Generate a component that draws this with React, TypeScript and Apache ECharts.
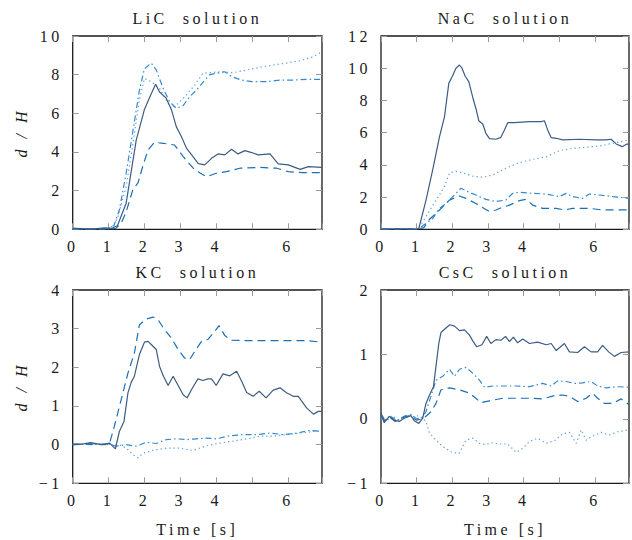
import React, { useEffect, useRef } from 'react';
import * as echarts from 'echarts';

type P = [number, number][];

// ---- LiC solution ----
const licSolid: P = [[0,0.05],[0.3,0.03],[0.6,0.02],[0.9,0.07],[1.1,0.05],[1.25,0.2],[1.49,1.35],[1.77,4.6],[2.0,6.2],[2.14,6.8],[2.31,7.5],[2.42,7.1],[2.6,6.8],[2.75,6.2],[2.89,5.3],[3.03,4.8],[3.17,4.2],[3.36,3.75],[3.5,3.4],[3.68,3.33],[3.87,3.67],[4.05,3.9],[4.24,3.85],[4.43,4.14],[4.61,3.9],[4.8,4.07],[4.99,3.97],[5.17,3.85],[5.5,3.9],[5.73,3.38],[6.01,3.33],[6.34,3.1],[6.57,3.24],[6.95,3.2]];
const licDashed: P = [[0,0.02],[0.5,0.0],[1.0,0.02],[1.2,0.05],[1.35,0.3],[1.49,0.9],[1.68,2.07],[1.82,2.4],[1.96,3.3],[2.1,4.1],[2.28,4.5],[2.52,4.45],[2.84,4.36],[3.08,3.76],[3.36,3.16],[3.54,2.93],[3.73,2.72],[4.0,2.9],[4.29,2.98],[4.66,3.16],[5.22,3.2],[5.69,3.16],[6.01,2.98],[6.43,2.93],[6.95,2.93]];
const licDashDot: P = [[0,0.05],[0.5,0.02],[1.0,0.03],[1.15,0.2],[1.3,1.0],[1.49,2.9],[1.68,5.1],[1.86,7.2],[2.0,8.3],[2.19,8.6],[2.33,8.24],[2.52,7.3],[2.7,6.6],[2.89,6.26],[3.08,6.4],[3.26,6.86],[3.45,7.2],[3.63,7.6],[3.82,8.0],[4.0,8.07],[4.24,8.15],[4.43,7.9],[4.71,7.72],[4.99,7.64],[5.4,7.64],[5.78,7.72],[6.15,7.72],[6.52,7.76],[6.95,7.76]];
const licDotted: P = [[0,0.03],[0.5,0.02],[1.0,0.04],[1.15,0.2],[1.26,0.65],[1.49,2.2],[1.68,4.45],[1.86,6.7],[2.0,7.8],[2.19,7.64],[2.42,7.3],[2.6,6.7],[2.75,6.26],[2.93,6.5],[3.17,6.95],[3.4,7.46],[3.63,8.07],[3.91,8.12],[4.19,8.15],[4.47,8.1],[4.85,8.24],[5.22,8.38],[5.59,8.5],[5.96,8.6],[6.34,8.72],[6.71,8.93],[6.95,9.19]];

// ---- NaC solution ----
const nacSolid: P = [[0,0.02],[0.5,0.03],[1.0,0.02],[1.06,0.05],[1.26,1.8],[1.45,3.7],[1.64,5.75],[1.78,7.0],[1.9,9.06],[2.0,9.5],[2.1,10.0],[2.2,10.2],[2.27,10.0],[2.36,9.5],[2.46,9.17],[2.57,8.2],[2.66,7.5],[2.74,6.74],[2.85,6.54],[2.94,5.96],[3.04,5.63],[3.22,5.59],[3.36,5.71],[3.46,6.17],[3.55,6.62],[3.74,6.62],[4.16,6.68],[4.49,6.68],[4.58,6.74],[4.67,6.17],[4.77,5.69],[4.91,5.65],[5.09,5.55],[5.56,5.59],[6.03,5.55],[6.31,5.55],[6.45,5.59],[6.59,5.3],[6.76,5.13],[6.89,5.3],[6.95,5.25]];
const nacDashed: P = [[0,0.0],[0.5,0.02],[1.0,0.0],[1.2,0.1],[1.36,0.62],[1.64,1.2],[1.92,1.82],[2.2,2.07],[2.38,1.92],[2.66,1.6],[3.04,1.1],[3.22,1.2],[3.41,1.37],[3.6,1.5],[3.88,1.78],[4.07,1.86],[4.25,1.5],[4.53,1.3],[4.91,1.3],[5.14,1.2],[5.37,1.3],[5.84,1.3],[6.21,1.2],[6.59,1.2],[6.95,1.2]];
const nacDashDot: P = [[0,0.02],[0.5,0.05],[1.0,0.03],[1.1,0.1],[1.26,0.37],[1.45,0.68],[1.64,1.3],[1.82,1.6],[2.06,2.13],[2.24,2.55],[2.43,2.34],[2.66,2.13],[2.94,1.86],[3.22,1.72],[3.5,1.82],[3.69,2.23],[3.88,2.3],[4.25,2.23],[4.63,2.19],[5.0,2.03],[5.19,2.23],[5.37,2.03],[5.65,1.92],[5.84,2.19],[6.12,2.13],[6.5,2.03],[6.95,1.92]];
const nacDotted: P = [[0,0.02],[0.6,0.05],[1.0,0.03],[1.1,0.2],[1.26,0.8],[1.54,1.8],[1.78,2.65],[1.92,3.5],[2.1,3.6],[2.29,3.5],[2.57,3.3],[2.85,3.23],[3.13,3.37],[3.5,3.79],[3.88,4.14],[4.25,4.34],[4.63,4.5],[5.0,4.88],[5.37,5.03],[5.75,5.09],[6.12,5.17],[6.5,5.34],[6.95,5.55]];

// ---- KC solution ----
const kcSolid: P = [[0,0.0],[0.3,0.02],[0.5,0.05],[0.8,0.0],[1.03,0.04],[1.19,-0.11],[1.3,0.34],[1.43,0.6],[1.54,1.34],[1.63,1.61],[1.72,1.77],[1.86,2.33],[2.0,2.65],[2.1,2.67],[2.19,2.59],[2.33,2.46],[2.42,2.03],[2.53,1.77],[2.66,1.53],[2.8,1.77],[2.94,1.53],[3.08,1.29],[3.19,1.21],[3.31,1.42],[3.49,1.7],[3.63,1.66],[3.77,1.7],[3.87,1.7],[4.0,1.53],[4.19,1.83],[4.38,1.78],[4.57,1.9],[4.71,1.64],[4.85,1.35],[5.03,1.25],[5.2,1.38],[5.39,1.21],[5.59,1.41],[5.78,1.47],[5.96,1.34],[6.15,1.25],[6.29,1.25],[6.52,0.95],[6.71,0.79],[6.85,0.86],[6.95,0.86]];
const kcDashed: P = [[0,0.0],[0.5,0.02],[0.9,0.0],[1.03,0.04],[1.16,0.47],[1.35,1.16],[1.54,1.85],[1.72,2.37],[1.86,3.1],[2.05,3.25],[2.24,3.3],[2.38,3.23],[2.56,2.97],[2.75,2.76],[2.94,2.46],[3.12,2.24],[3.26,2.2],[3.4,2.41],[3.59,2.67],[3.77,2.72],[3.96,2.93],[4.08,3.08],[4.24,2.82],[4.43,2.7],[4.85,2.69],[5.41,2.69],[5.96,2.69],[6.52,2.69],[6.95,2.65]];
const kcDashDot: P = [[0,0.02],[0.5,0.0],[1.0,0.02],[1.21,-0.04],[1.49,0.0],[1.77,-0.04],[2.05,0.06],[2.33,0.03],[2.61,0.13],[2.89,0.15],[3.17,0.13],[3.45,0.15],[3.73,0.17],[4.0,0.15],[4.38,0.23],[4.75,0.26],[5.13,0.26],[5.5,0.3],[5.87,0.26],[6.24,0.3],[6.62,0.37],[6.95,0.34]];
const kcDotted: P = [[0,0.0],[0.5,0.02],[1.0,0.0],[1.3,0.0],[1.49,-0.09],[1.68,-0.26],[1.82,-0.34],[1.96,-0.22],[2.24,-0.15],[2.61,-0.09],[2.98,-0.09],[3.35,-0.15],[3.73,-0.03],[4.1,0.04],[4.47,0.09],[4.85,0.15],[5.22,0.22],[5.59,0.22],[5.96,0.26],[6.34,0.3],[6.71,0.34],[6.95,0.34]];

// ---- CsC solution ----
const cscSolid: P = [[0,0.09],[0.09,-0.06],[0.23,0.04],[0.37,-0.02],[0.51,-0.04],[0.65,0.01],[0.84,0.05],[0.93,-0.03],[1.06,-0.07],[1.17,0.01],[1.26,0.24],[1.36,0.37],[1.47,0.5],[1.54,0.81],[1.62,1.17],[1.68,1.34],[1.82,1.41],[1.93,1.46],[2.06,1.44],[2.2,1.37],[2.34,1.38],[2.48,1.3],[2.57,1.21],[2.68,1.12],[2.83,1.15],[2.96,1.28],[3.08,1.17],[3.22,1.23],[3.36,1.22],[3.49,1.28],[3.6,1.2],[3.71,1.27],[3.83,1.18],[3.97,1.24],[4.16,1.17],[4.39,1.19],[4.63,1.15],[4.77,1.17],[4.91,1.06],[5.14,1.17],[5.28,1.04],[5.51,1.03],[5.7,1.12],[5.89,1.04],[6.07,1.04],[6.21,1.14],[6.38,1.04],[6.54,0.97],[6.73,1.03],[6.95,1.04]];
const cscDashed: P = [[0,0.05],[0.1,-0.03],[0.25,0.02],[0.4,-0.04],[0.6,0.02],[0.8,0.05],[1.0,-0.02],[1.15,0.0],[1.26,0.04],[1.4,0.11],[1.54,0.24],[1.68,0.45],[1.92,0.48],[2.2,0.45],[2.48,0.4],[2.66,0.32],[2.8,0.25],[3.04,0.28],[3.41,0.32],[3.79,0.32],[4.16,0.32],[4.53,0.31],[4.91,0.37],[5.09,0.37],[5.28,0.35],[5.51,0.27],[5.75,0.32],[5.93,0.4],[6.07,0.32],[6.26,0.24],[6.5,0.24],[6.73,0.31],[6.95,0.22]];
const cscDashDot: P = [[0,0.08],[0.12,-0.02],[0.3,0.03],[0.45,-0.03],[0.65,0.04],[0.85,0.07],[1.0,0.0],[1.15,0.02],[1.26,0.11],[1.4,0.35],[1.54,0.6],[1.73,0.66],[1.92,0.77],[2.06,0.66],[2.2,0.77],[2.38,0.8],[2.57,0.71],[2.76,0.6],[2.9,0.49],[3.13,0.51],[3.41,0.51],[3.79,0.51],[4.16,0.5],[4.53,0.55],[4.77,0.51],[4.95,0.59],[5.19,0.58],[5.42,0.55],[5.65,0.56],[5.89,0.58],[6.07,0.51],[6.31,0.48],[6.59,0.5],[6.95,0.49]];
const cscDotted: P = [[0,0.02],[0.15,-0.04],[0.3,0.05],[0.5,-0.02],[0.7,0.06],[0.9,0.03],[1.05,0.05],[1.18,0.0],[1.26,-0.04],[1.36,-0.22],[1.54,-0.33],[1.73,-0.43],[1.96,-0.51],[2.18,-0.54],[2.29,-0.43],[2.38,-0.33],[2.57,-0.3],[2.76,-0.38],[2.94,-0.4],[3.13,-0.37],[3.32,-0.39],[3.55,-0.39],[3.79,-0.52],[3.97,-0.46],[4.16,-0.35],[4.39,-0.3],[4.63,-0.38],[4.86,-0.34],[5.09,-0.23],[5.28,-0.21],[5.47,-0.38],[5.61,-0.17],[5.75,-0.33],[5.93,-0.27],[6.17,-0.21],[6.4,-0.25],[6.64,-0.2],[6.95,-0.17]];

const xTicks = [0, 1, 2, 3, 4, 6];
const titles = ['LiC  solution', 'NaC  solution', 'KC  solution', 'CsC  solution'];
const yRanges: [number, number, number][] = [[0, 10, 2], [0, 12, 2], [-1, 4, 1], [-1, 2, 1]];
const panelSeries: P[][] = [
  [licSolid, licDashed, licDashDot, licDotted],
  [nacSolid, nacDashed, nacDashDot, nacDotted],
  [kcSolid, kcDashed, kcDashDot, kcDotted],
  [cscSolid, cscDashed, cscDashDot, cscDotted],
];
const seriesNames = ['solid', 'dashed', 'dashdot', 'dotted'];

const FONT = '"Liberation Serif", "DejaVu Serif", serif';
const lineStyles = [
  { color: '#3e5c82', type: 'solid' as any },
  { color: '#1b6fb3', type: [8, 5] },
  { color: '#3589cf', type: [6, 3, 1.5, 3] },
  { color: '#5c9fe0', type: [1.3, 3] },
];
const boxes = [
  { left: 72.7, top: 36, width: 249.3, height: 193.3 },
  { left: 381, top: 36, width: 248, height: 193.3 },
  { left: 72.7, top: 290, width: 249.3, height: 193.3 },
  { left: 381, top: 290, width: 248, height: 193.3 },
];
const XMAX = 6.95;

export default function App() {
  const ref = useRef<HTMLDivElement>(null);
  useEffect(() => {
    if (!ref.current) return;
    const chart = echarts.init(ref.current, undefined, { renderer: 'svg' });
    const grid: any[] = [];
    const xAxis: any[] = [];
    const yAxis: any[] = [];
    const series: any[] = [];
    const graphic: any[] = [];
    const tickStyle = { show: true, inside: true, length: 6, lineStyle: { color: '#9a9a9a', width: 1 } };
    const labelBase = { fontFamily: FONT, fontSize: 16, color: '#1a1a1a' };
    const noLine = { show: false, onZero: false };
    boxes.forEach((b, g) => {
      grid.push({ ...b, show: true, borderColor: '#1a1a1a', borderWidth: 1.3, backgroundColor: 'transparent' });
      const [ymin, ymax, yint] = yRanges[g];
      const xBase = { type: 'value', gridIndex: g, min: 0, max: XMAX, interval: 1, splitLine: { show: false }, axisLine: noLine, axisTick: tickStyle };
      xAxis.push({ ...xBase, position: 'bottom', axisLabel: { ...labelBase, margin: 9, formatter: (v: number) => (xTicks.includes(v) ? String(v) : '') } });
      xAxis.push({ ...xBase, position: 'top', axisLabel: { show: false } });
      const yBase = { type: 'value', gridIndex: g, min: ymin, max: ymax, interval: yint, splitLine: { show: false }, axisLine: noLine, axisTick: tickStyle };
      yAxis.push({ ...yBase, position: 'left', axisLabel: { ...labelBase, margin: 10, formatter: (v: number) => (v < 0 ? '\u2212' + Math.abs(v) : String(v)) } });
      yAxis.push({ ...yBase, position: 'right', axisLabel: { show: false } });
      panelSeries[g].forEach((d, k) => {
        series.push({
          name: titles[g] + ' ' + seriesNames[k], type: 'line', xAxisIndex: 2 * g, yAxisIndex: 2 * g, data: d,
          showSymbol: false, symbol: 'none', smooth: false, lineStyle: { ...lineStyles[k], width: 1.2 }, z: 3 + (3 - k),
        });
      });
      const textStyle = (t: string, italic = false) => ({ text: t, font: `${italic ? 'italic ' : ''}16px ${FONT}`, fill: '#1a1a1a', align: 'center', verticalAlign: 'middle', textAlign: 'center', textVerticalAlign: 'middle' });
      graphic.push({ type: 'text', x: b.left + b.width / 2, y: b.top - 18, style: textStyle(titles[g]) });
      if (g % 2 === 0) {
        graphic.push({ type: 'text', x: 21, y: b.top + b.height / 2, rotation: Math.PI / 2, style: textStyle('d / H', true) });
      }
      if (g >= 2) {
        graphic.push({ type: 'text', x: b.left + b.width / 2, y: 529, style: textStyle('Time [s]') });
      }
    });
    chart.setOption({ animation: false, backgroundColor: '#ffffff', grid, xAxis, yAxis, series, graphic });
    return () => chart.dispose();
  }, []);
  return <div ref={ref} style={{ position: 'absolute', left: 0, top: 0, width: 632, height: 540, letterSpacing: '3.5px' }} />;
}
